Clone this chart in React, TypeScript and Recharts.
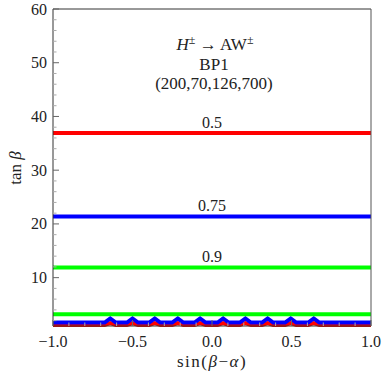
import { LineChart, Line, XAxis, YAxis, ReferenceDot } from 'recharts'

// contour lines of tan(beta) vs sin(beta-alpha)
const edgeX = [-1, 1]
const red05 = [36.9, 36.9]
const blue075 = [21.4, 21.4]
const green09 = [11.9, 11.9]
const greenLow = [3.2, 3.2]

const lowX = [
  -1.0, -0.675, -0.64, -0.605, -0.535, -0.5, -0.465, -0.395, -0.36, -0.325,
  -0.25, -0.215, -0.18, -0.11, -0.075, -0.04, 0.035, 0.07, 0.105, 0.175, 0.21,
  0.245, 0.315, 0.35, 0.385, 0.46, 0.495, 0.53, 0.605, 0.64, 0.675, 1.0,
]
const blueLow = [
  1.65, 1.65, 2.4, 1.65, 1.65, 2.4, 1.65, 1.65, 2.4, 1.65, 1.65, 2.4, 1.65,
  1.65, 2.4, 1.65, 1.65, 2.4, 1.65, 1.65, 2.4, 1.65, 1.65, 2.4, 1.65, 1.65, 2.4,
  1.65, 1.65, 2.4, 1.65, 1.65,
]
const redLow = [
  1.2, 1.2, 1.55, 1.2, 1.2, 1.55, 1.2, 1.2, 1.55, 1.2, 1.2, 1.55, 1.2, 1.2, 1.55,
  1.2, 1.2, 1.55, 1.2, 1.2, 1.55, 1.2, 1.2, 1.55, 1.2, 1.2, 1.55, 1.2, 1.2, 1.55,
  1.2, 1.2,
]

const contourLabels = [
  { text: '0.5', y: 36.9 },
  { text: '0.75', y: 21.4 },
  { text: '0.9', y: 11.9 },
]

const xTicks = [
  -1, -0.9, -0.8, -0.7, -0.6, -0.5, -0.4, -0.3, -0.2, -0.1, 0, 0.1, 0.2, 0.3,
  0.4, 0.5, 0.6, 0.7, 0.8, 0.9, 1,
]
const xMajor = [-1, -0.5, 0, 0.5, 1]
const xMajorLabels = ['\u22121.0', '\u22120.5', '0.0', '0.5', '1.0']
const yTicks = [
  2, 4, 6, 8, 10, 12, 14, 16, 18, 20, 22, 24, 26, 28, 30, 32, 34, 36, 38, 40,
  42, 44, 46, 48, 50, 52, 54, 56, 58, 60,
]
const yMajor = [10, 20, 30, 40, 50, 60]
const yMajorLabels = ['10', '20', '30', '40', '50', '60']

const toPoints = (xs: number[], ys: number[]) =>
  xs.map((x, i) => ({ x, y: ys[i] }))

const FONT = '"Liberation Serif", "Times New Roman", serif'

function makeTick(side: 'bottom' | 'top' | 'left' | 'right') {
  return (props: any) => {
    const { x, y, payload } = props
    const v = payload.value as number
    const isX = side === 'bottom' || side === 'top'
    const mi = isX
      ? xMajor.findIndex((m) => Math.abs(m - v) < 1e-6)
      : yMajor.indexOf(v)
    const len = mi >= 0 ? 6 : 3.5
    const color = mi >= 0 ? '#666' : '#aaa'
    let line
    if (side === 'bottom') line = <line x1={x} y1={y} x2={x} y2={y - len} stroke={color} />
    else if (side === 'top') line = <line x1={x} y1={y} x2={x} y2={y + len} stroke={color} />
    else if (side === 'left') line = <line x1={x} y1={y} x2={x + len} y2={y} stroke={color} />
    else line = <line x1={x} y1={y} x2={x - len} y2={y} stroke={color} />
    return (
      <g>
        {line}
        {mi >= 0 && side === 'bottom' && (
          <text x={x} y={y + 21} textAnchor='middle' fontSize={16} fontFamily={FONT} fill='#222'>
            {xMajorLabels[mi]}
          </text>
        )}
        {mi >= 0 && side === 'left' && (
          <text x={x - 6} y={y + 5.5} textAnchor='end' fontSize={16} fontFamily={FONT} fill='#222'>
            {yMajorLabels[mi]}
          </text>
        )}
      </g>
    )
  }
}

export default function App() {
  return (
    <div style={{ position: 'absolute', left: 0, top: 0, background: '#fff', fontFamily: FONT }}>
      <LineChart
        width={382}
        height={382}
        margin={{ top: 8, right: 10, bottom: 55, left: 52 }}
      >
        <XAxis
          dataKey='x'
          type='number'
          domain={[-1, 1]}
          ticks={xTicks}
          interval={0}
          height={1}
          tickSize={0}
          tickMargin={0}
          tickLine={false}
          axisLine={{ stroke: '#333' }}
          tick={makeTick('bottom')}
        />
        <XAxis
          xAxisId='top'
          orientation='top'
          dataKey='x'
          type='number'
          domain={[-1, 1]}
          ticks={xTicks}
          interval={0}
          height={1}
          tickSize={0}
          tickMargin={0}
          tickLine={false}
          axisLine={{ stroke: '#333' }}
          tick={makeTick('top')}
        />
        <YAxis
          type='number'
          domain={[1, 60]}
          ticks={yTicks}
          interval={0}
          width={1}
          tickSize={0}
          tickMargin={0}
          tickLine={false}
          axisLine={{ stroke: '#333' }}
          tick={makeTick('left')}
        />
        <YAxis
          yAxisId='right'
          orientation='right'
          type='number'
          domain={[1, 60]}
          ticks={yTicks}
          interval={0}
          width={1}
          tickSize={0}
          tickMargin={0}
          tickLine={false}
          axisLine={{ stroke: '#555' }}
          tick={makeTick('right')}
        />
        <Line data={toPoints(lowX, redLow)} dataKey='y' stroke='#ff0000' strokeWidth={4} dot={false} isAnimationActive={false} />
        <Line data={toPoints(lowX, blueLow)} dataKey='y' stroke='#0000ff' strokeWidth={4} dot={false} isAnimationActive={false} />
        <Line data={toPoints(edgeX, greenLow)} dataKey='y' stroke='#00ff00' strokeWidth={4} dot={false} isAnimationActive={false} />
        <Line data={toPoints(edgeX, green09)} dataKey='y' stroke='#00ff00' strokeWidth={4} dot={false} isAnimationActive={false} />
        <Line data={toPoints(edgeX, blue075)} dataKey='y' stroke='#0000ff' strokeWidth={4} dot={false} isAnimationActive={false} />
        <Line data={toPoints(edgeX, red05)} dataKey='y' stroke='#ff0000' strokeWidth={4} dot={false} isAnimationActive={false} />
        {contourLabels.map((c) => (
          <ReferenceDot
            key={c.text}
            x={0}
            y={c.y}
            r={0}
            fill='none'
            stroke='none'
            label={{ value: c.text, position: 'top', offset: 5, fontSize: 16, fontFamily: FONT, fill: '#222' }}
          />
        ))}
        <text x={215} y={50} textAnchor='middle' fontSize={17} fontFamily={FONT} fill='#222'>
          <tspan fontStyle='italic'>H</tspan>
          <tspan dy={-6} fontSize={12}>±</tspan>
          <tspan dy={6}>{' \u2192 AW'}</tspan>
          <tspan dy={-6} fontSize={12}>±</tspan>
        </text>
        <text x={214} y={70} textAnchor='middle' fontSize={17} fontFamily={FONT} fill='#222'>
          BP1
        </text>
        <text x={214} y={89} textAnchor='middle' fontSize={17} fontFamily={FONT} fill='#222'>
          (200,70,126,700)
        </text>
        <text x={212} y={367} textAnchor='middle' fontSize={17} letterSpacing={1.5} fontFamily={FONT} fill='#222'>
          sin(<tspan fontStyle='italic'>β</tspan>−<tspan fontStyle='italic'>α</tspan>)
        </text>
        <text x={21} y={168} textAnchor='middle' fontSize={17} fontFamily={FONT} fill='#222' transform='rotate(-90 21 168)'>
          tan <tspan fontStyle='italic'>β</tspan>
        </text>
      </LineChart>
    </div>
  )
}
